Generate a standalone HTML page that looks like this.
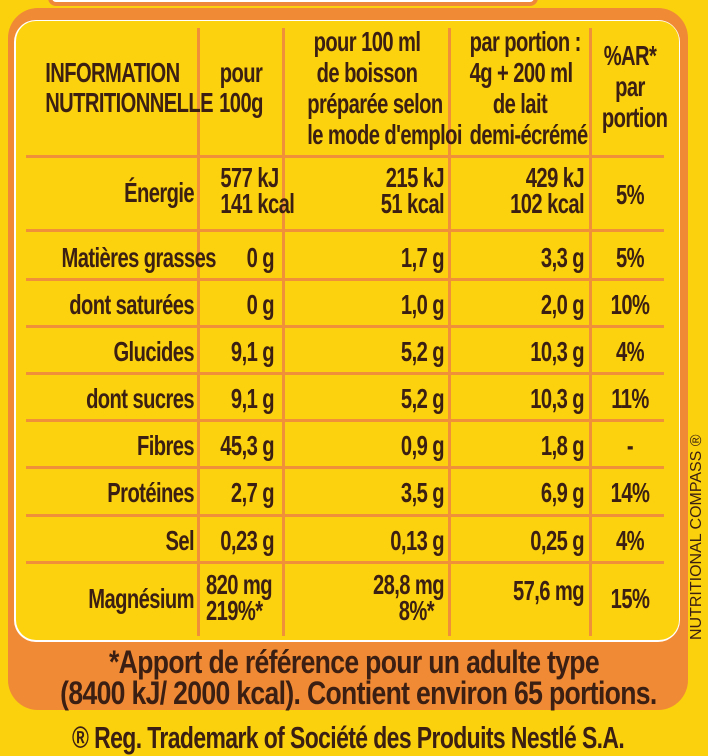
<!DOCTYPE html>
<html><head><meta charset="utf-8"><style>
*{margin:0;padding:0;box-sizing:border-box}
body{width:708px;height:756px;overflow:hidden;background:#fbd10e;position:relative;font-family:"Liberation Sans",sans-serif;font-weight:bold;color:#3b1f12}
.a{position:absolute}
.t{position:absolute;font-size:28px;line-height:26px;white-space:nowrap;letter-spacing:-0.8px;transform:scaleX(0.72);transform-origin:left center}
.r{text-align:right;transform-origin:right center}
.c{text-align:center;transform-origin:center center}
.v{position:absolute;background:#f0913a;width:3px}
.h{position:absolute;background:#f0913a;height:3px;left:26px;width:638px}
</style></head><body>
<div class="a" style="left:48px;top:-12px;width:490px;height:18px;background:#fff;border:4px solid #f0883a;border-radius:8px"></div>
<div class="a" style="left:8px;top:8px;width:680px;height:702px;background:#f08a35;border-radius:30px"></div>
<div class="a" style="left:14px;top:20px;width:666px;height:622px;background:#fff;border-radius:22px"></div>
<div class="a" style="left:16px;top:21px;width:663px;height:619px;background:#fcd20e;border-radius:20px"></div>
<div class="v" style="left:197px;top:28px;height:608px"></div>
<div class="v" style="left:282px;top:28px;height:608px"></div>
<div class="v" style="left:448px;top:28px;height:608px"></div>
<div class="v" style="left:589px;top:28px;height:608px"></div>
<div class="h" style="top:155px"></div>
<div class="h" style="top:229px"></div>
<div class="h" style="top:278px"></div>
<div class="h" style="top:325px"></div>
<div class="h" style="top:372px"></div>
<div class="h" style="top:419px"></div>
<div class="h" style="top:466px"></div>
<div class="h" style="top:514px"></div>
<div class="h" style="top:561px"></div>

<div class="t c" style="left:20px;top:58px;width:180px;line-height:30px">INFORMATION<br>NUTRITIONNELLE</div>
<div class="t c" style="left:200px;top:58px;width:82px;line-height:30px">pour<br>100g</div>
<div class="t c" style="left:284px;top:26px;width:166px;line-height:31px">pour 100 ml<br>de boisson<br>préparée selon<br>le mode d'emploi</div>
<div class="t c" style="left:450px;top:26px;width:140px;line-height:31px">par portion :<br>4g + 200 ml<br>de lait<br>demi-écrémé</div>
<div class="t c" style="left:591px;top:40px;width:78px;line-height:31px">%AR*<br>par<br>portion</div>

<div class="t r" style="left:20px;top:180px;width:174px">Énergie</div>
<div class="t r" style="left:198px;top:165px;width:80px">577 kJ<br>141 kcal</div>
<div class="t r" style="left:284px;top:165px;width:160px">215 kJ<br>51 kcal</div>
<div class="t r" style="left:450px;top:165px;width:134px">429 kJ<br>102 kcal</div>
<div class="t c" style="left:591px;top:182px;width:78px">5%</div>

<div class="t r" style="left:10px;top:245px;width:184px">Matières grasses</div>
<div class="t r" style="left:198px;top:245px;width:76px">0 g</div>
<div class="t r" style="left:284px;top:245px;width:160px">1,7 g</div>
<div class="t r" style="left:450px;top:245px;width:134px">3,3 g</div>
<div class="t c" style="left:591px;top:245px;width:78px">5%</div>

<div class="t r" style="left:10px;top:292px;width:184px">dont saturées</div>
<div class="t r" style="left:198px;top:292px;width:76px">0 g</div>
<div class="t r" style="left:284px;top:292px;width:160px">1,0 g</div>
<div class="t r" style="left:450px;top:292px;width:134px">2,0 g</div>
<div class="t c" style="left:591px;top:292px;width:78px">10%</div>

<div class="t r" style="left:10px;top:339px;width:184px">Glucides</div>
<div class="t r" style="left:198px;top:339px;width:76px">9,1 g</div>
<div class="t r" style="left:284px;top:339px;width:160px">5,2 g</div>
<div class="t r" style="left:450px;top:339px;width:134px">10,3 g</div>
<div class="t c" style="left:591px;top:339px;width:78px">4%</div>

<div class="t r" style="left:10px;top:386px;width:184px">dont sucres</div>
<div class="t r" style="left:198px;top:386px;width:76px">9,1 g</div>
<div class="t r" style="left:284px;top:386px;width:160px">5,2 g</div>
<div class="t r" style="left:450px;top:386px;width:134px">10,3 g</div>
<div class="t c" style="left:591px;top:386px;width:78px">11%</div>

<div class="t r" style="left:10px;top:433px;width:184px">Fibres</div>
<div class="t r" style="left:198px;top:433px;width:76px">45,3 g</div>
<div class="t r" style="left:284px;top:433px;width:160px">0,9 g</div>
<div class="t r" style="left:450px;top:433px;width:134px">1,8 g</div>
<div class="t c" style="left:591px;top:433px;width:78px">-</div>

<div class="t r" style="left:10px;top:480px;width:184px">Protéines</div>
<div class="t r" style="left:198px;top:480px;width:76px">2,7 g</div>
<div class="t r" style="left:284px;top:480px;width:160px">3,5 g</div>
<div class="t r" style="left:450px;top:480px;width:134px">6,9 g</div>
<div class="t c" style="left:591px;top:480px;width:78px">14%</div>

<div class="t r" style="left:10px;top:528px;width:184px">Sel</div>
<div class="t r" style="left:198px;top:528px;width:76px">0,23 g</div>
<div class="t r" style="left:284px;top:528px;width:160px">0,13 g</div>
<div class="t r" style="left:450px;top:528px;width:134px">0,25 g</div>
<div class="t c" style="left:591px;top:528px;width:78px">4%</div>

<div class="t r" style="left:10px;top:586px;width:184px">Magnésium</div>
<div class="t" style="left:206px;top:572px;width:80px">820 mg<br>219%*</div>
<div class="t r" style="left:284px;top:572px;width:160px">28,8 mg</div>
<div class="t r" style="left:284px;top:598px;width:150px">8%*</div>
<div class="t r" style="left:450px;top:578px;width:134px">57,6 mg</div>
<div class="t c" style="left:591px;top:586px;width:78px">15%</div>

<div class="t c" style="left:0;top:647px;width:708px;font-size:32px;line-height:31px;transform:scaleX(0.83)">*Apport de référence pour un adulte type<br>(8400 kJ/ 2000 kcal). Contient environ 65 portions.</div>
<div class="t c" style="left:-20px;top:722px;width:708px;font-size:31px;line-height:32px;transform:scaleX(0.74)">® Reg. Trademark of Société des Produits Nestlé S.A.</div>
<div class="a" style="left:688px;top:640px;transform:rotate(-90deg);transform-origin:0 0;font-size:16px;font-weight:normal;white-space:nowrap;font-family:'Liberation Sans',sans-serif;color:#3b1f12">NUTRITIONAL COMPASS ®</div>
</body></html>
